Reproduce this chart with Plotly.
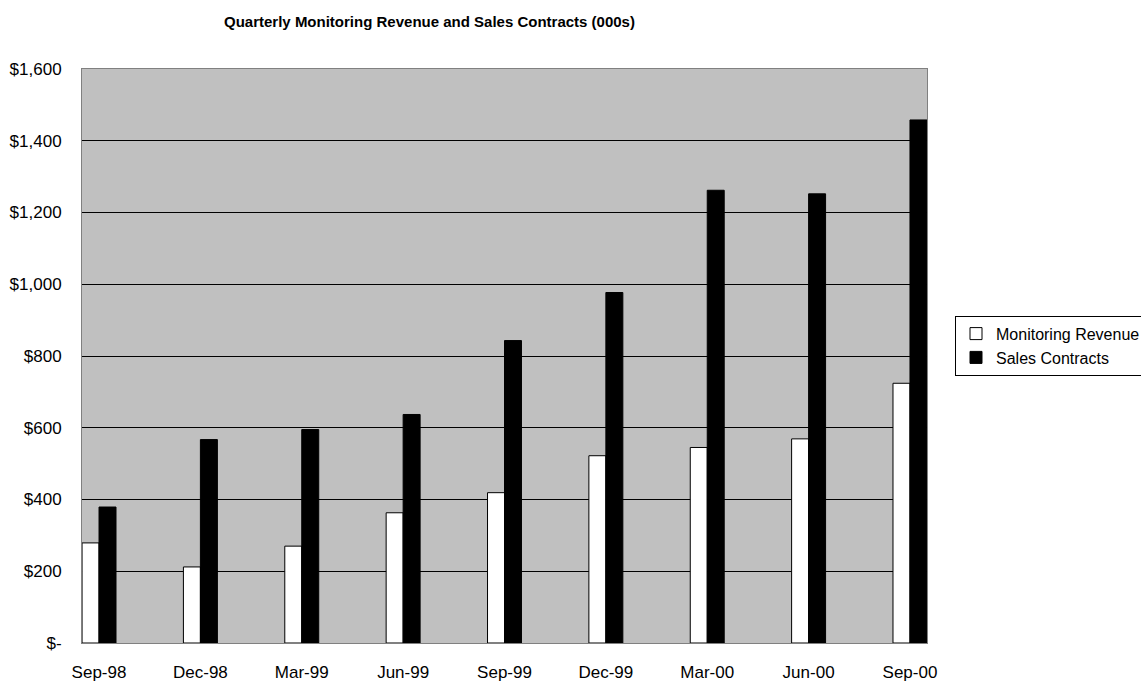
import plotly.graph_objects as go

quarters = ["Sep-98", "Dec-98", "Mar-99", "Jun-99", "Sep-99",
            "Dec-99", "Mar-00", "Jun-00", "Sep-00"]
monitoring_revenue = [279, 212, 270, 363, 419, 522, 545, 569, 724]
sales_contracts = [379, 567, 595, 637, 843, 977, 1262, 1252, 1458]
y_tick_values = [0, 200, 400, 600, 800, 1000, 1200, 1400, 1600]
y_tick_labels = ["$-", "$200", "$400", "$600", "$800",
                 "$1,000", "$1,200", "$1,400", "$1,600"]

W, H = 1141, 681
L, R, T, B = 82, 214, 69, 38

fig = go.Figure()
fig.add_bar(x=quarters, y=monitoring_revenue, name="Monitoring Revenue",
            marker=dict(color="white", line=dict(color="black", width=1)))
fig.add_bar(x=quarters, y=sales_contracts, name="Sales Contracts",
            marker=dict(color="black", line=dict(color="black", width=1)))

fig.update_layout(
    width=W, height=H,
    barmode="group", bargap=0.665, bargroupgap=0,
    margin=dict(l=L, r=R, t=T, b=B, autoexpand=False),
    paper_bgcolor="white", plot_bgcolor="#C0C0C0",
    font=dict(family="Liberation Sans, Arial, sans-serif", size=17, color="black"),
    title=dict(text="<b>Quarterly Monitoring Revenue and Sales Contracts (000s)</b>",
               x=429.5 / W, xanchor="center", xref="container",
               y=1 - 22 / H, yanchor="middle", yref="container",
               font=dict(size=15, color="black")),
    legend=dict(x=(955 - L) / (W - L - R), xanchor="left",
                y=(643.3 - 316) / (H - T - B), yanchor="top",
                bordercolor="black", borderwidth=1, bgcolor="white",
                font=dict(size=16), traceorder="normal"),
    showlegend=True,
)
fig.update_xaxes(type="category", range=[-0.168, 8.168], showgrid=False,
                 showline=True, linecolor="#808080", mirror=True,
                 ticks="", ticklabelstandoff=14, tickfont=dict(size=17))
fig.update_yaxes(range=[0, 1600], tickvals=y_tick_values, ticktext=y_tick_labels,
                 showgrid=True, gridcolor="black", gridwidth=1,
                 zeroline=True, zerolinecolor="black", zerolinewidth=1,
                 showline=True, linecolor="#808080", mirror=True,
                 ticks="", ticklabelstandoff=16, tickfont=dict(size=17))

fig.write_html("out.html")
